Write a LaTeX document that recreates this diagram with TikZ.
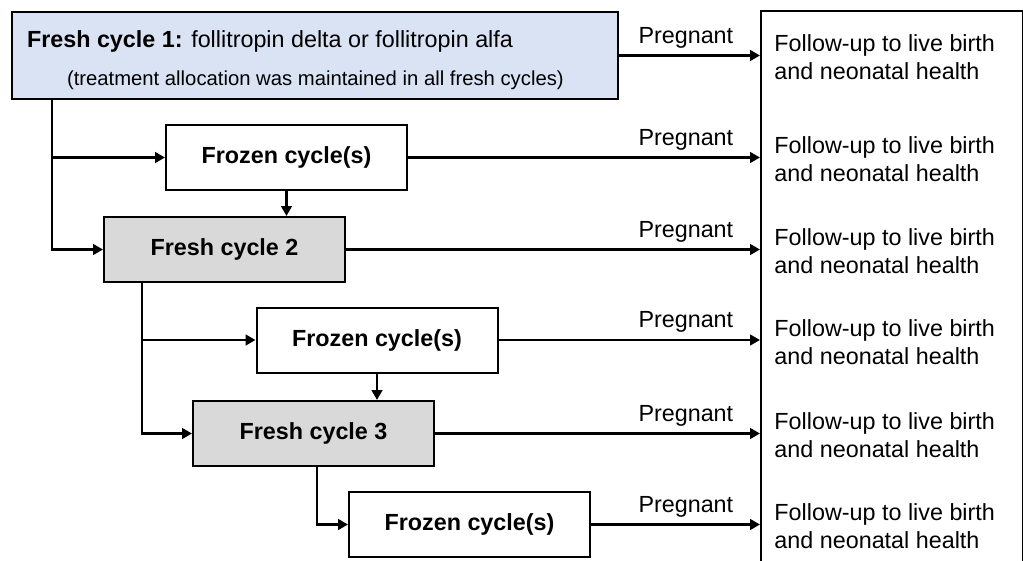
\documentclass[tikz,border=0pt]{standalone}
\usepackage{fontspec}
\setmainfont{Liberation Sans}
\usetikzlibrary{positioning, arrows.meta, calc}
\definecolor{freshblue}{HTML}{DAE3F3}
\definecolor{freshgrey}{HTML}{D9D9D9}

\begin{document}
\begin{tikzpicture}[x=0.75pt, y=-0.75pt,
  cyclebox/.style={draw, line width=1.5pt, minimum width=180.75pt,
    minimum height=48.75pt, inner sep=0pt,
    font=\fontsize{17.5}{21}\selectfont\bfseries},
  frozen/.style={cyclebox, fill=white},
  fresh/.style={cyclebox, fill=freshgrey},
  arr/.style={line width=2.2pt, -{Triangle[length=7.5pt, width=8pt]}},
  preg/.style={anchor=south east, inner sep=0pt, xshift=-19pt,
    yshift=4.5pt, font=\fontsize{17.5}{21}\selectfont},
  followup/.style={anchor=west, align=left, inner xsep=9.75pt,
    yshift=-1.5pt, font=\fontsize{17.5}{21}\selectfont}]

  \useasboundingbox (0,0) rectangle (1023,560);

  % Outcome column (runs off the bottom edge)
  \node[draw, line width=1.5pt, minimum width=196.5pt, minimum height=420pt,
    anchor=north west] (outbox) at (760,10) {};

  % Fresh cycle 1
  \node[draw, line width=1.5pt, fill=freshblue, minimum width=454.5pt,
    minimum height=65.25pt, inner sep=0pt, text width=432pt, align=flush left,
    font=\fontsize{17.5}{28.5}\selectfont] (fc1) at (315,55.5)
    {\rule{0pt}{19.5pt}\textbf{Fresh cycle 1:} follitropin delta or follitropin alfa\\
     \hspace*{30pt}{\fontsize{15.2}{28.5}\selectfont (treatment allocation was maintained in all fresh cycles)}};

  % Later cycles
  \node[frozen] (fz1) at (286.5,157.5) {Frozen cycle(s)};
  \node[fresh]  (fc2) at (224.5,249.5) {Fresh cycle 2};
  \node[frozen] (fz2) at (377,340)     {Frozen cycle(s)};
  \node[fresh]  (fc3) at (313.5,433.5) {Fresh cycle 3};
  \node[frozen] (fz3) at (469.5,524.5) {Frozen cycle(s)};

  % Pregnant -> follow-up
  \foreach \b/\i in {fc1/1, fz1/2, fc2/3, fz2/4, fc3/5, fz3/6}{
    \draw[arr] (\b.east) -- (\b.east -| outbox.west)
      node[preg] {Pregnant}
      node[followup] (fu\i) {Follow-up to live birth\\and neonatal health};
  }

  % Branches
  \coordinate (s1) at ($(fc1.south west)+(41,0)$);
  \draw[arr] (s1) |- (fz1.west);
  \draw[arr] (s1) |- (fc2.west);
  \draw[arr] (fz1.south) -- (fz1.south |- fc2.north);

  \coordinate (s2) at ($(fc2.south west)+(39,0)$);
  \draw[arr] (s2) |- (fz2.west);
  \draw[arr] (s2) |- (fc3.west);
  \draw[arr] (fz2.south) -- (fz2.south |- fc3.north);

  \coordinate (s3) at ($(fc3.south west)+(125,0)$);
  \draw[arr] (s3) |- (fz3.west);
\end{tikzpicture}
\end{document}
